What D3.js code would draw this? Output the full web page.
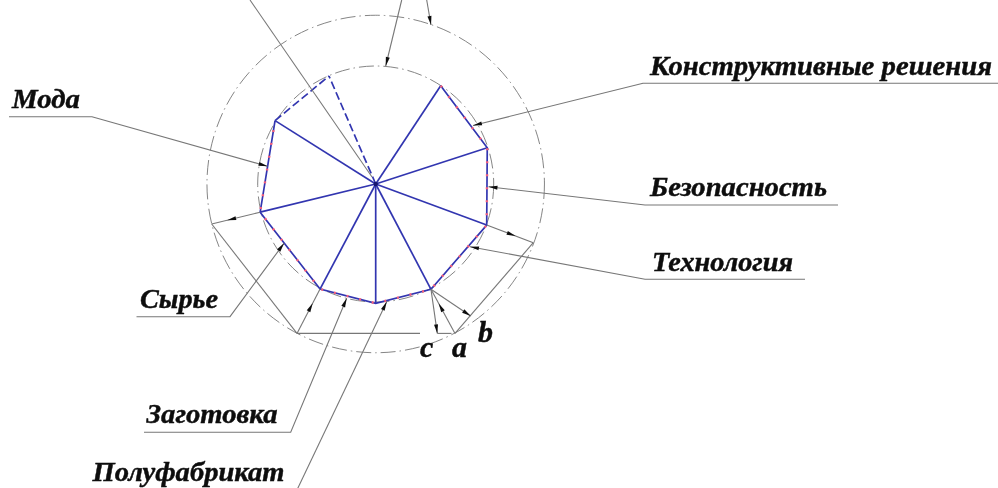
<!DOCTYPE html>
<html>
<head>
<meta charset="utf-8">
<script src="https://cdn.jsdelivr.net/npm/d3@7"></script>
<style>
  html, body { margin: 0; padding: 0; background: #fff; }
  svg { display: block; }
  text { font-family: "Liberation Serif", serif; font-weight: bold; font-style: italic; fill: #0a0a0a; stroke: #0a0a0a; stroke-width: 0.4; }
</style>
</head>
<body>
<div id="chart"></div>
<script>
// axis direction in degrees, clockwise from the top, and level (1 = inner circle)
const angles = [33.5, 72, 110.3, 152.3, 180, 207.9, 256.3, 302.2, 336.6];
const levels = [0.998, 0.994, 1.003, 1.008, 1.011, 1.008, 1.008, 1.008, 0.997];
const ringLevels = [1, 1.43];

const labelNames = ["Конструктивные решения", "Безопасность", "Технология", "Мода", "Сырье", "Заготовка", "Полуфабрикат"];
const letterNames = ["a", "b", "c"];

const width = 998, height = 488;
const cx = 375.7, cy = 184;

const svg = d3.select("#chart").append("svg")
    .attr("width", width)
    .attr("height", height);

svg.append("filter").attr("id", "soft")
    .append("feGaussianBlur").attr("stdDeviation", 0.45);

const root = svg.append("g").attr("filter", "url(#soft)");

const r = d3.scaleLinear().domain([0, 1]).range([0, 118]);
const rad = d3.scaleLinear().domain([0, 360]).range([0, 2 * Math.PI]);

// page position of an axis end
const vertex = i => {
    const p = d3.pointRadial(rad(angles[i]), r(levels[i]));
    return [cx + p[0], cy + p[1]];
};

const plot = root.append("g").attr("transform", `translate(${cx},${cy})`);

// dash-dot rings
plot.selectAll("circle.ring")
    .data(ringLevels)
    .enter()
    .append("circle")
    .attr("class", "ring")
    .attr("r", d => r(d))
    .attr("fill", "none")
    .attr("stroke", "#777")
    .attr("stroke-width", 0.9)
    .attr("stroke-dasharray", "15 4 1.5 4");

const solid = d3.range(8);
const edge = d3.lineRadial()
    .angle(i => rad(angles[i]))
    .radius(i => r(levels[i]));

// spokes
plot.selectAll("line.spoke")
    .data(d3.range(9))
    .enter()
    .append("line")
    .attr("class", "spoke")
    .attr("x2", i => d3.pointRadial(rad(angles[i]), r(levels[i]))[0])
    .attr("y2", i => d3.pointRadial(rad(angles[i]), r(levels[i]))[1])
    .attr("stroke", "#3236b0")
    .attr("stroke-width", 1.7)
    .attr("stroke-dasharray", i => i == 8 ? "8 3.5" : null);

// polygon
plot.append("path")
    .attr("d", edge(solid))
    .attr("fill", "none")
    .attr("stroke", "#3236b0")
    .attr("stroke-width", 1.7);

plot.append("path")
    .attr("d", edge(solid))
    .attr("fill", "none")
    .attr("stroke", "#f4607e")
    .attr("stroke-width", 2.4)
    .attr("stroke-dasharray", "2 11");

plot.append("path")
    .attr("d", edge([7, 8]))
    .attr("fill", "none")
    .attr("stroke", "#3236b0")
    .attr("stroke-width", 1.7)
    .attr("stroke-dasharray", "8 3.5");

plot.append("circle").attr("r", 2.2).attr("fill", "#14146e");

// leader lines, underline first
const leaders = [
    { pts: [[998, 83.3], [643, 83.3], [473, 125.5]], arrow: 1 },
    { pts: [[838, 205], [645, 205], [488.5, 186.7]], arrow: 1 },
    { pts: [[805, 279.3], [645, 279.3], [470, 246.7]], arrow: 1 },
    { pts: [[9, 116.7], [92, 116.7], [267.5, 166.3]], arrow: 1 },
    { pts: [[136.5, 316.7], [230, 316.7], [284, 243.3]], arrow: 1 },
    { pts: [[144, 432.3], [290.7, 432.3], [346.7, 298.3]], arrow: 1 },
    { pts: [[296, 492], [386.7, 301.7]], arrow: 1 },
    { pts: [[250, 0], [372, 177]], arrow: 0 },
    { pts: [[401.7, 0], [385.7, 66]], arrow: 1 },
    { pts: [[426.7, 0], [431, 25]], arrow: 1 }
];

const line = d3.line();

root.selectAll("path.leader")
    .data(leaders)
    .enter()
    .append("path")
    .attr("class", "leader")
    .attr("d", d => line(d.pts))
    .attr("fill", "none")
    .attr("stroke", "#777")
    .attr("stroke-width", 1.1);

// dimension lines a, b, c
const foot = { left: [211.7, 224], low: [297, 333.4], a: [455, 333.4], c: [437.3, 333.4], b: [470.7, 316], right: [533.3, 242.7] };
const dims = [
    [vertex(6), foot.left],
    [foot.left, foot.low],
    [vertex(5), foot.low],
    [foot.low, [420, 333.4]],
    [vertex(3), foot.c],
    [foot.c, [451.5, 333.4]],
    [vertex(3), foot.a],
    [vertex(3), foot.b],
    [foot.a, foot.right],
    [vertex(2), foot.right]
];

root.selectAll("line.dim")
    .data(dims)
    .enter()
    .append("line")
    .attr("class", "dim")
    .attr("x1", d => d[0][0])
    .attr("y1", d => d[0][1])
    .attr("x2", d => d[1][0])
    .attr("y2", d => d[1][1])
    .attr("stroke", "#777")
    .attr("stroke-width", 1.1);

// arrowheads: tip and the direction it comes from
function head(tip, from) {
    const a = Math.atan2(from[1] - tip[1], from[0] - tip[0]);
    const len = 9, w = 2;
    const bx = tip[0] + len * Math.cos(a), by = tip[1] + len * Math.sin(a);
    const nx = -Math.sin(a) * w, ny = Math.cos(a) * w;
    return [tip, [bx + nx, by + ny], [bx - nx, by - ny]];
}

// point at fraction t from p to q
const along = (p, q, t) => [p[0] + (q[0] - p[0]) * t, p[1] + (q[1] - p[1]) * t];

const heads = leaders.filter(d => d.arrow).map(d => {
    const n = d.pts.length;
    return head(d.pts[n - 1], d.pts[n - 2]);
}).concat([
    head(along(vertex(6), foot.left, 0.68), vertex(6)),
    head(along(foot.low, vertex(5), 0.68), foot.low),
    head(foot.c, vertex(3)),
    head(along(foot.a, vertex(3), 0.68), foot.a),
    head(foot.b, vertex(3)),
    head(along(vertex(2), foot.right, 0.62), vertex(2))
]);

root.selectAll("polygon.head")
    .data(heads)
    .enter()
    .append("polygon")
    .attr("class", "head")
    .attr("points", d => d.join(" "))
    .attr("fill", "#111");

// texts
const labelPos = [[650, 75], [650, 196], [652, 271], [12, 108], [140, 308], [146.5, 423], [92.5, 481]];
const labelLen = [342, 177, 141, 68, 78, 131, 192];

root.selectAll("text.label")
    .data(labelNames)
    .enter()
    .append("text")
    .attr("class", "label")
    .attr("x", (d, i) => labelPos[i][0])
    .attr("y", (d, i) => labelPos[i][1])
    .attr("font-size", 28)
    .attr("textLength", (d, i) => labelLen[i])
    .attr("lengthAdjust", "spacingAndGlyphs")
    .text(d => d);

const letterPos = [[452, 357], [478, 342], [420, 357]];

root.selectAll("text.letter")
    .data(letterNames)
    .enter()
    .append("text")
    .attr("class", "letter")
    .attr("x", (d, i) => letterPos[i][0])
    .attr("y", (d, i) => letterPos[i][1])
    .attr("font-size", 30)
    .text(d => d);
</script>
</body>
</html>
